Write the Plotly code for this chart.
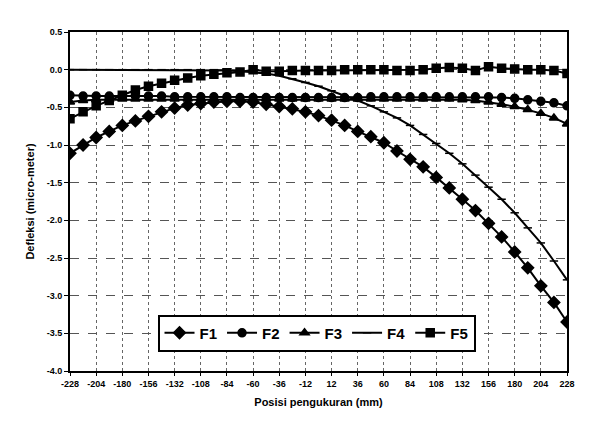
import plotly.graph_objects as go

positions = list(range(-228, 229, 12))

F1 = [-1.11, -1.00, -0.90, -0.82, -0.74, -0.68, -0.62, -0.56, -0.51, -0.47,
      -0.45, -0.43, -0.42, -0.42, -0.43, -0.46, -0.49, -0.52, -0.56, -0.61,
      -0.67, -0.74, -0.82, -0.89, -0.97, -1.08, -1.19, -1.29, -1.43, -1.57,
      -1.72, -1.87, -2.04, -2.22, -2.42, -2.63, -2.87, -3.09, -3.35]
F2 = [-0.34, -0.35, -0.35, -0.35, -0.35, -0.35, -0.35, -0.35, -0.36, -0.36,
      -0.36, -0.36, -0.36, -0.37, -0.37, -0.37, -0.37, -0.37, -0.37, -0.37,
      -0.37, -0.37, -0.37, -0.36, -0.36, -0.36, -0.36, -0.36, -0.36, -0.36,
      -0.36, -0.36, -0.36, -0.37, -0.38, -0.40, -0.42, -0.44, -0.48]
F3 = [-0.43, -0.41, -0.40, -0.40, -0.39, -0.39, -0.39, -0.39, -0.39, -0.39,
      -0.39, -0.39, -0.39, -0.39, -0.39, -0.39, -0.39, -0.39, -0.39, -0.39,
      -0.39, -0.39, -0.39, -0.39, -0.39, -0.39, -0.39, -0.39, -0.39, -0.39,
      -0.40, -0.41, -0.43, -0.46, -0.49, -0.53, -0.58, -0.64, -0.72]
F4 = [0.00, 0.00, 0.00, 0.00, 0.00, 0.00, 0.00, 0.00, 0.00, 0.00,
      0.00, 0.00, -0.01, -0.02, -0.03, -0.05, -0.08, -0.12, -0.17, -0.22,
      -0.28, -0.35, -0.41, -0.48, -0.56, -0.64, -0.74, -0.86, -0.98, -1.11,
      -1.25, -1.40, -1.56, -1.72, -1.90, -2.10, -2.30, -2.54, -2.79]
F5 = [-0.65, -0.56, -0.48, -0.41, -0.34, -0.27, -0.22, -0.18, -0.14, -0.11,
      -0.08, -0.06, -0.04, -0.03, 0.00, -0.02, -0.02, -0.01, -0.01, -0.01,
      -0.01, 0.00, 0.00, 0.00, 0.00, -0.01, -0.01, 0.00, 0.02, 0.03,
      0.02, -0.01, 0.04, 0.02, 0.01, 0.00, 0.00, -0.01, -0.05]

x_ticks = list(range(-228, 229, 24))
y_ticks = [0.5, 0.0, -0.5, -1.0, -1.5, -2.0, -2.5, -3.0, -3.5, -4.0]

series = [
    ("F1", F1, "diamond", 9),
    ("F2", F2, "circle", 8),
    ("F3", F3, "triangle-up", 8),
    ("F4", F4, "line-ew", 6),
    ("F5", F5, "square", 8),
]

fig = go.Figure()
for name, vals, sym, size in series:
    fig.add_trace(go.Scatter(
        x=positions, y=vals, name=name, mode="lines+markers",
        line=dict(color="black", width=2),
        marker=dict(symbol=sym, size=size, color="black",
                    line=dict(color="black", width=1.5)),
    ))

font = dict(family="Liberation Sans, Arial, sans-serif", size=9, color="black", weight="bold")
title_font = dict(family="Liberation Sans, Arial, sans-serif", size=11, color="black", weight="bold")

fig.update_layout(
    width=602, height=432,
    margin=dict(l=70, r=35, t=32, b=61),
    paper_bgcolor="white", plot_bgcolor="white",
    font=font,
    showlegend=True,
    legend=dict(
        orientation="h", x=0.496, y=0.112, xanchor="center", yanchor="middle",
        bordercolor="black", borderwidth=2, bgcolor="white",
        font=dict(family="Liberation Sans, Arial, sans-serif", size=15, color="black"),
        itemwidth=30, tracegroupgap=0,
    ),
    xaxis=dict(
        range=[-228, 228], tickvals=x_ticks, ticktext=[str(v) for v in x_ticks],
        showline=True, linecolor="black", linewidth=2, mirror=True,
        ticks="outside", ticklen=3, tickcolor="black",
        showgrid=True, gridcolor="#666666", griddash="dot", gridwidth=1,
        zeroline=False, tickfont=font,
        title=dict(text="Posisi pengukuran (mm)", font=title_font, standoff=11),
    ),
    yaxis=dict(
        range=[-4.0, 0.5], tickvals=y_ticks, ticktext=[f"{v:.1f}" for v in y_ticks],
        showline=True, linecolor="black", linewidth=2, mirror=True,
        ticks="outside", ticklen=4, tickcolor="black",
        showgrid=True, gridcolor="#555555", griddash="dash", gridwidth=1,
        zeroline=False, tickfont=font,
        title=dict(text="Defleksi (micro-meter)", font=title_font, standoff=10),
    ),
)

fig.write_html("out.html")
